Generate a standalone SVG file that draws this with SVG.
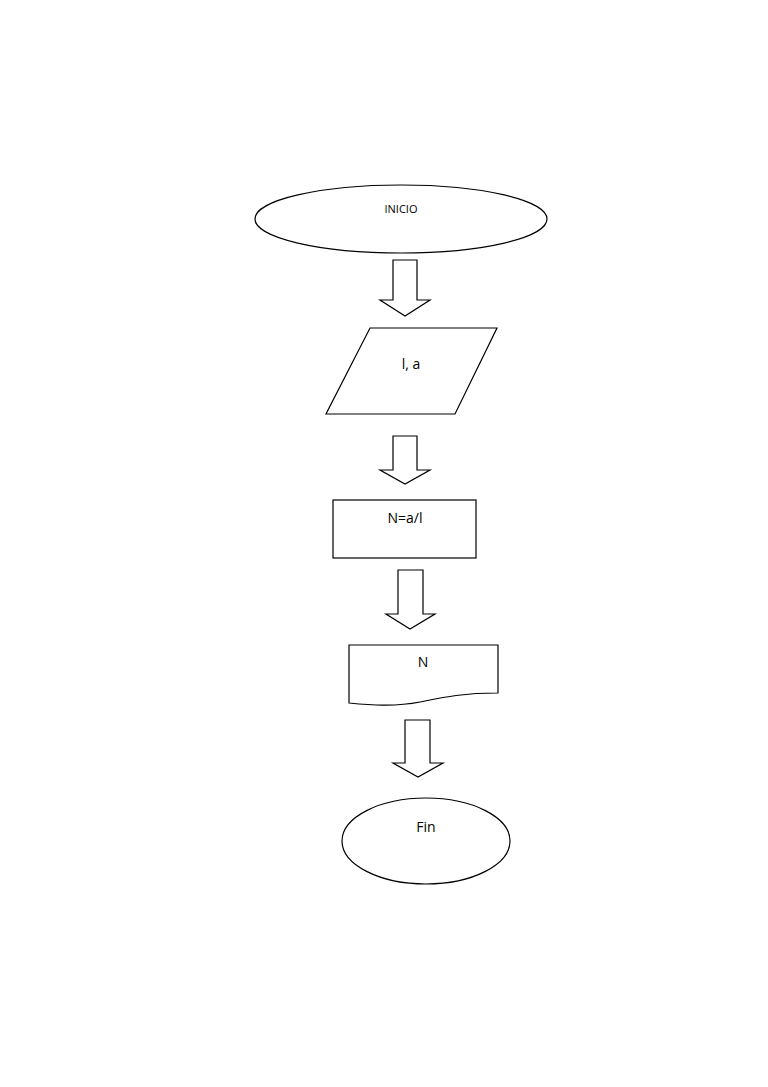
<svg xmlns="http://www.w3.org/2000/svg" width="768" height="1087" viewBox="0 0 768 1087">
<style>
.s{fill:#fff;stroke:#000;stroke-width:1.2}
.t{font-family:"Open Sans","Liberation Sans",sans-serif;font-size:14px;fill:#000;text-anchor:middle}
</style>
<rect width="768" height="1087" fill="#fff"/>
<g id="connectors">
<path class="s" d="M393,260H417V300H430L405,316L380,300H393Z"/>
<path class="s" d="M393,436H417V470H430L405,484L380,470H393Z"/>
<path class="s" d="M398,570H423V614H435L410,629L386,614H398Z"/>
<path class="s" d="M405,720H430V763H443L418,777L393,763H405Z"/>
</g>
<g id="inicio"><ellipse class="s" cx="401" cy="219" rx="146" ry="34"/><text class="t" x="401" y="213" style="font-size:11px">INICIO</text></g>
<g id="entrada"><polygon class="s" points="370,328 497,328 455,414 326,414"/><text class="t" x="411" y="369">l, a</text></g>
<g id="proceso"><rect class="s" x="333" y="500" width="143" height="58"/><text class="t" x="405" y="523">N=a/l</text></g>
<g id="salida"><path class="s" d="M349,645H498V693C460,693 440,698 420,702C395,707 370,705 349,703Z"/><text class="t" x="423" y="667">N</text></g>
<g id="fin"><ellipse class="s" cx="426" cy="841" rx="84" ry="43"/><text class="t" x="426" y="832">Fin</text></g>
</svg>
